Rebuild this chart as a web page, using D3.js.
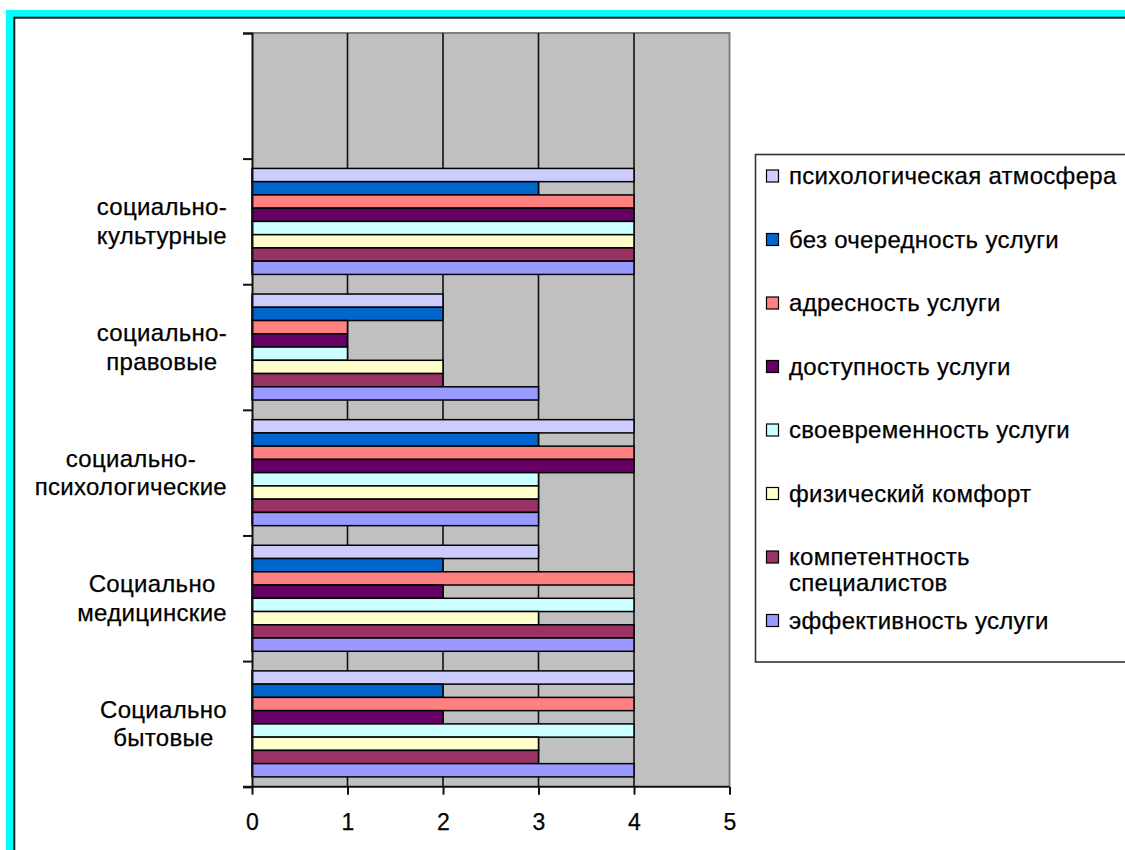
<!DOCTYPE html>
<html lang="ru">
<head>
<meta charset="utf-8">
<script src="https://cdn.jsdelivr.net/npm/d3@7"></script>
<style>
  html, body { margin: 0; padding: 0; background: #ffffff; }
  svg { display: block; }
  svg text { font-family: "Liberation Sans", Arial, sans-serif; fill: #000; }
  .lbl { letter-spacing: 0.3px; stroke: #000; stroke-width: 0.25px; }
</style>
</head>
<body>
<svg id="chart" width="1125" height="850"></svg>
<script>
// Categories, bottom to top; the topmost slot is an empty category row.
const categories = [
  "Социально\nбытовые",
  "Социально\nмедицинские",
  "социально-\nпсихологические",
  "социально-\nправовые",
  "социально-\nкультурные",
  ""
];

// Series names (legend order, top to bottom within each group)
const seriesNames = [
  "психологическая атмосфера",
  "без очередность услуги",
  "адресность услуги",
  "доступность услуги",
  "своевременность услуги",
  "физический комфорт",
  "компетентность\nспециалистов",
  "эффективность услуги"
];

const seriesColors = ["#CCCCFF", "#0066CC", "#FF8080", "#660066", "#CCFFFF", "#FFFFCC", "#993366", "#9999FF"];

// Scores per category (same order as categories, without the empty row)
const psychAtmosphere = [4, 3, 4, 2, 4];
const noQueue         = [2, 2, 3, 2, 3];
const targeting       = [4, 4, 4, 1, 4];
const accessibility   = [2, 2, 4, 1, 4];
const timeliness      = [4, 4, 3, 1, 4];
const physComfort     = [3, 3, 3, 2, 4];
const competence      = [3, 4, 3, 2, 4];
const effectiveness   = [4, 4, 3, 3, 4];

const xTicks = [0, 1, 2, 3, 4, 5];

const seriesValues = [psychAtmosphere, noQueue, targeting, accessibility, timeliness, physComfort, competence, effectiveness];

const svg = d3.select("#chart");

// Outer frame: cyan band with a dark inner rule
svg.append("rect").attr("x", 6).attr("y", 10).attr("width", 1200).attr("height", 900).attr("fill", "#00FFFF");
svg.append("rect").attr("x", 14.3).attr("y", 17.7).attr("width", 1200).attr("height", 900)
  .attr("fill", "#ffffff").attr("stroke", "#1a1a1a").attr("stroke-width", 2);

const plot = { left: 252, right: 729.5, top: 33, bottom: 786.7 };

const x = d3.scaleLinear().domain([0, 5]).range([plot.left, plot.right]);

// Band scale ordered top to bottom
const yOrder = categories.slice().reverse();
const y = d3.scaleBand().domain(yOrder).range([plot.top, plot.bottom]).paddingInner(0).paddingOuter(0);
const ySeries = d3.scaleBand().domain(d3.range(seriesNames.length))
  .range([0, y.bandwidth()]).paddingInner(0).paddingOuter(0.74);

// Plot area
svg.append("rect")
  .attr("x", plot.left).attr("y", plot.top)
  .attr("width", plot.right - plot.left).attr("height", plot.bottom - plot.top)
  .attr("fill", "#C0C0C0");
svg.append("path")
  .attr("d", `M${plot.left},${plot.top}H${plot.right}V${plot.bottom}`)
  .attr("fill", "none").attr("stroke", "#808080").attr("stroke-width", 2);

// Vertical gridlines
svg.append("g").selectAll("line")
  .data(xTicks.filter(t => t > 0 && t < 5))
  .join("line")
  .attr("x1", d => x(d)).attr("x2", d => x(d))
  .attr("y1", plot.top).attr("y2", plot.bottom)
  .attr("stroke", "#111").attr("stroke-width", 1.6);

// Bars
const groups = svg.append("g").selectAll("g")
  .data(categories.filter(c => c !== ""))
  .join("g")
  .attr("transform", d => `translate(0,${y(d)})`);

groups.selectAll("rect")
  .data((d, ci) => seriesValues.map((vals, si) => ({ si, v: vals[ci] })))
  .join("rect")
  .attr("x", x(0))
  .attr("y", d => ySeries(d.si))
  .attr("width", d => x(d.v) - x(0))
  .attr("height", ySeries.bandwidth())
  .attr("fill", d => seriesColors[d.si])
  .attr("stroke", "#000").attr("stroke-width", 1.5);

// Left axis: ticks at category boundaries
const yBound = d3.scaleLinear().domain([0, categories.length]).range([plot.top, plot.bottom]);
const yAxis = svg.append("g")
  .attr("transform", `translate(${plot.left},0)`)
  .call(d3.axisLeft(yBound).tickValues(d3.range(categories.length + 1)).tickSize(9).tickFormat(""));
yAxis.select(".domain").attr("stroke", "#111").attr("stroke-width", 2);
yAxis.selectAll(".tick line").attr("stroke", "#111").attr("stroke-width", 2);

// Bottom axis
const xAxis = svg.append("g")
  .attr("transform", `translate(0,${plot.bottom})`)
  .call(d3.axisBottom(x).tickValues(xTicks).tickSize(8).tickPadding(19).tickFormat(d3.format("d")));
xAxis.attr("font-family", null).attr("font-size", null);
xAxis.select(".domain").attr("stroke", "#111").attr("stroke-width", 2)
  .attr("d", `M${plot.left - 9},0H${plot.right}`);
xAxis.selectAll(".tick line").attr("stroke", "#111").attr("stroke-width", 2);
xAxis.selectAll(".tick text")
  .attr("class", "lbl")
  .attr("font-size", 23)
  .attr("fill", "#000");

// Category labels: a right-aligned block, each line centred within it
const labelRight = 227;
const catLabels = svg.append("g").attr("font-size", 24);
categories.filter(c => c !== "").forEach(c => {
  const lines = c.split("\n");
  const cy = y(c) + y.bandwidth() / 2;
  const g = catLabels.append("g");
  const texts = lines.map((ln, i) =>
    g.append("text").attr("class", "lbl").attr("y", cy - 6 + i * 28.5).text(ln)
  );
  const maxW = d3.max(texts, t => t.node().getComputedTextLength());
  texts.forEach(t => {
    const w = t.node().getComputedTextLength();
    t.attr("x", labelRight - maxW / 2 - w / 2);
  });
});

// Legend
const legend = svg.append("g");
legend.append("rect")
  .attr("x", 755.5).attr("y", 154.5).attr("width", 500).attr("height", 507.5)
  .attr("fill", "#ffffff").attr("stroke", "#333").attr("stroke-width", 1.6);

const rowY = d3.scaleLinear().domain([0, 1]).range([176, 239.5]);
seriesNames.forEach((name, i) => {
  const cy = rowY(i);
  legend.append("rect")
    .attr("x", 766.5).attr("y", cy - 6).attr("width", 12).attr("height", 12)
    .attr("fill", seriesColors[i]).attr("stroke", "#000").attr("stroke-width", 1.2);
  name.split("\n").forEach((ln, j) => {
    legend.append("text")
      .attr("class", "lbl")
      .attr("x", 789).attr("y", cy + 8 + j * 26)
      .attr("font-size", 24)
      .text(ln);
  });
});
</script>
</body>
</html>
